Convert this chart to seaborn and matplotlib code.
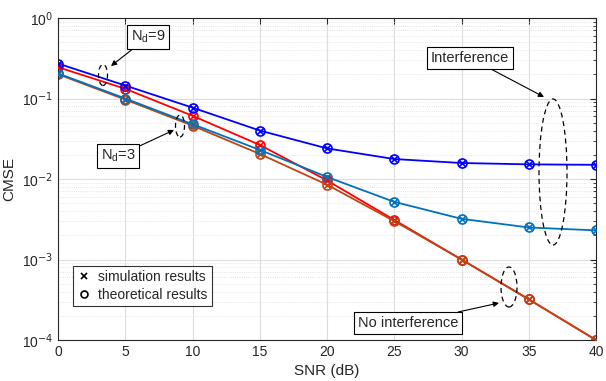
import numpy as np
import pandas as pd
import matplotlib
matplotlib.use("Agg")
import matplotlib.pyplot as plt
import seaborn as sns
from matplotlib.patches import Ellipse
from matplotlib.lines import Line2D

snr = [0, 5, 10, 15, 20, 25, 30, 35, 40]
nd9_interf = [0.272, 0.145, 0.077, 0.040, 0.024, 0.0177, 0.0158, 0.0152, 0.0150]
nd3_interf = [0.205, 0.100, 0.048, 0.023, 0.0106, 0.0052, 0.0032, 0.0025, 0.0023]
nd9_noint = [0.245, 0.132, 0.061, 0.0265, 0.0096, 0.0031, 0.0010, 0.00032, 0.0001]
nd3_noint = [0.200, 0.097, 0.046, 0.0205, 0.0085, 0.0030, 0.0010, 0.00032, 0.0001]

series = {
    "Nd=9 interference": (nd9_interf, "#0000FF"),
    "Nd=3 interference": (nd3_interf, "#0072BD"),
    "Nd=9 no interference": (nd9_noint, "#FF0000"),
    "Nd=3 no interference": (nd3_noint, "#BF4515"),
}

sns.set_style("white")
plt.rcParams['font.family'] = ['Liberation Sans', 'DejaVu Sans']

fig = plt.figure(figsize=(6.06, 3.81), dpi=100)
L, R, T, B = 58, 596, 18, 340
ax = fig.add_axes([L / 606, 1 - B / 381, (R - L) / 606, (B - T) / 381])
W, H = R - L, B - T

rows = []
for name, (vals, col) in series.items():
    for s, v in zip(snr, vals):
        rows.append({"SNR": s, "CMSE": v, "series": name})
df = pd.DataFrame(rows)
palette = {k: v[1] for k, v in series.items()}

order = ["Nd=9 no interference", "Nd=3 no interference", "Nd=9 interference", "Nd=3 interference"]
for name in order:
    sub = df[df.series == name]
    col = palette[name]
    sns.lineplot(data=sub, x="SNR", y="CMSE", ax=ax, color=col, lw=1.3,
                 marker="o", markersize=6.5, markerfacecolor="none",
                 markeredgecolor=col, markeredgewidth=1.2, legend=False)
    sns.scatterplot(data=sub, x="SNR", y="CMSE", ax=ax, color=col, marker="x",
                    s=22, linewidth=1.2, legend=False, zorder=5)

ax.set_yscale("log")
ax.set_xlim(0, 40)
ax.set_ylim(1e-4, 1)
ax.set_xticks(snr)
ax.set_xticklabels([str(s) for s in snr])
ax.set_yticks([1e-4, 1e-3, 1e-2, 1e-1, 1])
ax.set_yticklabels([r"10$^{-4}$", r"10$^{-3}$", r"10$^{-2}$", r"10$^{-1}$", r"10$^{0}$"])
ax.set_xlabel("SNR (dB)", fontsize=11, labelpad=4, color="#262626")
ax.set_ylabel("CMSE", fontsize=11, labelpad=4, color="#262626")
ax.tick_params(axis="both", which="both", direction="in", top=True, right=True,
               labelsize=10, colors="#262626")
ax.tick_params(which="major", length=4)
ax.tick_params(which="minor", length=2)
ax.grid(True, which="major", color="#DCDCDC", lw=0.8, ls="-")
ax.grid(True, which="minor", color="#DCDCDC", lw=0.6, ls=":")
ax.set_axisbelow(True)
for sp in ax.spines.values():
    sp.set_color("#262626")
    sp.set_linewidth(0.8)


def ell_px(cx, cy, w, h):
    fx = (cx - L) / W
    fy = (B - cy) / H
    e = Ellipse((fx, fy), w / W, h / H, transform=ax.transAxes,
                fill=False, ls=(0, (4, 3)), lw=0.9, color="black", zorder=6)
    ax.add_patch(e)

ell_px(103, 75, 9, 21)
ell_px(180, 126, 9, 22)
ell_px(553, 172, 28, 146)
ell_px(509, 287, 16, 40)

bbox = dict(boxstyle="square,pad=0.25", fc="white", ec="black", lw=0.8)
def ann(text, tx, ty, ax_, ay_):
    ax.annotate(text, xy=((ax_ - L) / W, (B - ay_) / H), xycoords="axes fraction",
                xytext=((tx - L) / W, (B - ty) / H), textcoords="axes fraction",
                ha="center", va="center", fontsize=10.5, bbox=bbox,
                arrowprops=dict(arrowstyle="-|>", color="black", lw=0.8, mutation_scale=8,
                                shrinkA=0, shrinkB=0), zorder=7)

ann(r"N$_\mathregular{d}$=9", 148, 37, 111, 66)
ann(r"N$_\mathregular{d}$=3", 118, 156, 174, 130)
ann("Interference", 470, 58, 544, 97)
ann("No interference", 408, 323, 499, 303)

handles = [Line2D([], [], ls="none", marker="x", color="black", markersize=4, markeredgewidth=1.2),
           Line2D([], [], ls="none", marker="o", markerfacecolor="none", markeredgecolor="black",
                  markersize=5, markeredgewidth=1.2)]
leg = ax.legend(handles, ["simulation results", "theoretical results"], loc="lower left",
                bbox_to_anchor=((73 - L) / W, (B - 306) / H), fontsize=10, frameon=True, fancybox=False,
                handlelength=1.0, handletextpad=0.5, borderpad=0.3, labelspacing=0.3,
                borderaxespad=0)
leg.get_frame().set_edgecolor("black")
leg.get_frame().set_linewidth(0.8)

fig.savefig("out.png", dpi=100)
